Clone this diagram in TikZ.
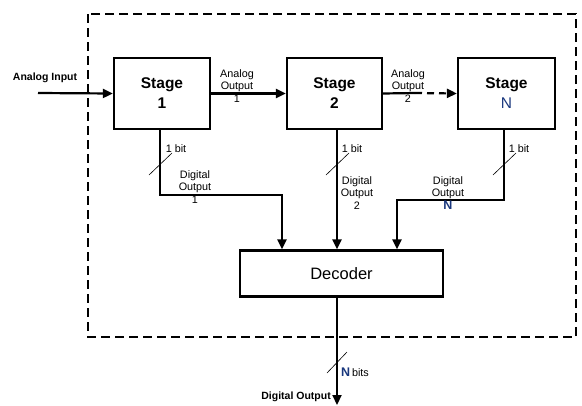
\documentclass[tikz,border=0pt]{standalone}
\usepackage{fontspec}
\setmainfont{Liberation Sans}
\usetikzlibrary{arrows.meta,calc}
\definecolor{nblue}{RGB}{25,55,125}
\begin{document}
\begin{tikzpicture}[x=1pt,y=-1pt,
  box/.style={draw,line width=2.2pt,minimum height=71pt,inner sep=0pt},
  wire/.style={line width=2.2pt},
  arr/.style={wire,-{Triangle[length=10pt,width=9pt]}},
  slash/.style={line width=0.6pt},
  lbl/.style={font=\fontsize{10.8}{12.6}\selectfont,align=center,inner sep=0pt},
  stagefont/.style={font=\fontsize{15.5}{20}\selectfont\bfseries,align=center}]
\useasboundingbox (0,0) rectangle (582,405);
% dashed enclosure
\draw[line width=2.2pt,dash pattern=on 9pt off 5pt] (88,14) rectangle (576,337);
% stages
\node[box,minimum width=96pt,stagefont] (s1) at (162,93.5) {Stage\\1};
\node[box,minimum width=95pt,stagefont] (s2) at (334.5,93.5) {Stage\\2};
\node[box,minimum width=97pt,stagefont] (sN) at (506.5,93.5) {Stage\\{\mdseries\color{nblue}N}};
\node[draw,line width=2.2pt,minimum width=203pt,minimum height=46pt,inner sep=0pt,font=\fontsize{16.5}{18}\selectfont] (dec) at (341.5,273.5) {Decoder};
% coordinates
\coordinate (ain) at (38,93);
\coordinate (mid2) at (415,93);
\coordinate (b1) at (160,195);
\coordinate (d1) at (282,250);
\coordinate (b2) at (337,195);
\coordinate (bN) at (504,200);
\coordinate (dN) at (397,250);
\coordinate (dout) at (337,405);
% analog path
\draw[arr] (ain) -- (s1.west);
\draw[arr] (s1.east) -- (s2.west);
\draw[wire] (s2.east) -- (mid2);
\draw[arr,dash pattern=on 7pt off 5pt] (mid2) -- (sN.west);
% digital outputs
\draw[arr] (s1.south -| b1) -- (b1) -| (dec.north -| d1);
\draw[arr] (s2.south -| b2) -- (dec.north -| b2);
\draw[arr] (sN.south -| bN) -- (bN) -| (dec.north -| dN);
\draw[arr] (dec.south -| dout) -- (dout);
% slashes
\draw[slash] (149,175) -- (172,153);
\draw[slash] (326,175) -- (349,153);
\draw[slash] (493,175) -- (516,153);
\draw[slash] (327,373) -- (347,352);
% labels
\node[lbl,font=\fontsize{10.5}{12}\selectfont\bfseries] (tin) at (45,78) {Analog Input};
\node[lbl] (ta1) at (237,86) {Analog\\Output\\1};
\node[lbl] (ta2) at (408,86) {Analog\\Output\\2};
\node[lbl] (tb1) at (176,149) {1 bit};
\node[lbl] (tb2) at (352,149) {1 bit};
\node[lbl] (tbN) at (519,149) {1 bit};
\node[lbl] (td1) at (195,187) {Digital\\Output\\1};
\node[lbl] (td2) at (357,193) {Digital\\Output\\2};
\node[lbl] (tdN) at (448,193) {Digital\\Output\\{\fontsize{12.5}{12}\selectfont\bfseries\color{nblue}N}};
\node[lbl,anchor=west] (tnb) at (341,372) {{\fontsize{12.5}{12}\selectfont\bfseries\color{nblue}N}\,bits};
\node[lbl,anchor=east,font=\fontsize{10.5}{12}\selectfont\bfseries] (tdo) at (331,397) {Digital Output};
\end{tikzpicture}
\end{document}
